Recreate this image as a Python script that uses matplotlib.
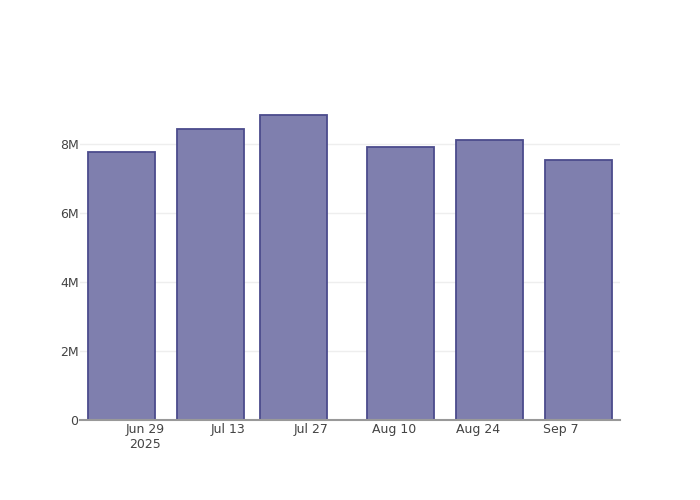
import numpy as np
import matplotlib.pyplot as plt
import matplotlib.dates as mdates
from datetime import datetime, timedelta

# Datos
fechas = ['2025-06-25', '2025-07-10', '2025-07-24', '2025-08-11', '2025-08-26', '2025-09-10']
valores = [7.78e6, 8.44e6, 8.83e6, 7.91e6, 8.12e6, 7.55e6]
ticks_x = ['2025-06-29', '2025-07-13', '2025-07-27', '2025-08-10', '2025-08-24', '2025-09-07']
etiquetas_x = ['Jun 29\n2025', 'Jul 13', 'Jul 27', 'Aug 10', 'Aug 24', 'Sep 7']
ticks_y = [0, 2e6, 4e6, 6e6, 8e6]
etiquetas_y = ['0', '2M', '4M', '6M', '8M']

fechas_dt = [datetime.strptime(f, '%Y-%m-%d') for f in fechas]
ticks_dt = [datetime.strptime(f, '%Y-%m-%d') for f in ticks_x]

fig = plt.figure(figsize=(7, 5), dpi=100)
ax = fig.add_axes([80/700, 80/500, 540/700, 320/500])

ancho = 11.2
ax.bar(fechas_dt, valores, width=ancho, color='#7f7fae', edgecolor='#4b4b8c',
       linewidth=1.3, zorder=3)

ax.set_xlim(fechas_dt[0] - timedelta(days=7.0), fechas_dt[-1] + timedelta(days=7.0))
ax.set_ylim(0, 9.275e6)

ax.set_xticks(ticks_dt)
ax.set_xticklabels(etiquetas_x, color='#444444', fontsize=9)
ax.set_yticks(ticks_y)
ax.set_yticklabels(etiquetas_y, color='#444444', fontsize=9)
ax.tick_params(axis='x', length=0, pad=2)
ax.tick_params(axis='y', length=0, pad=1)

ax.grid(axis='y', color='#eeeeee', linewidth=1, zorder=0)
for lado in ['top', 'right', 'left']:
    ax.spines[lado].set_visible(False)
ax.spines['bottom'].set_color('#999999')
ax.spines['bottom'].set_linewidth(1.5)
ax.spines['bottom'].set_zorder(4)

fig.savefig('out.png', dpi=100)
